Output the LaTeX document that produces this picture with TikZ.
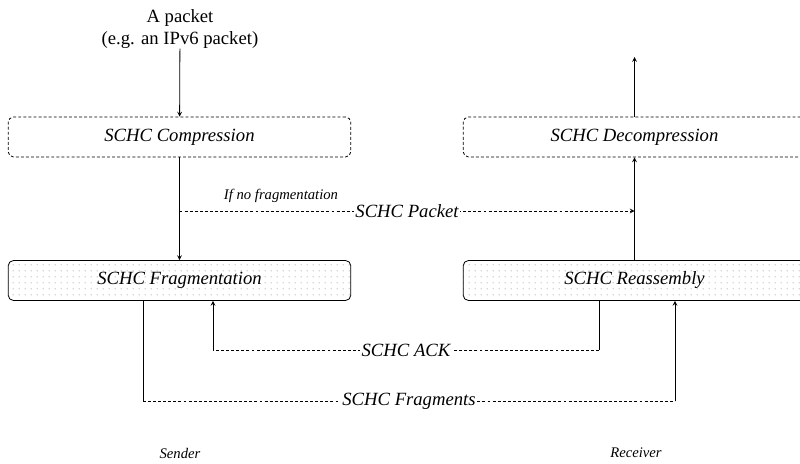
\documentclass[tikz,border=0pt]{standalone}
\usepackage{fontspec}
\setmainfont{Liberation Serif}
\usetikzlibrary{patterns}
\pgfdeclarepatternformonly{sparse dots}{\pgfpointorigin}{\pgfqpoint{4.5pt}{4.5pt}}{\pgfqpoint{4.5pt}{4.5pt}}{\pgfpathcircle{\pgfqpoint{1pt}{1pt}}{0.55pt}\pgfusepath{fill}}
\begin{document}
\begin{tikzpicture}[x=0.75pt, y=-0.75pt, font=\fontsize{14}{16}\selectfont, line join=round, line width=0.6pt, >=stealth,
    block/.style={draw, rounded corners=4pt, minimum width=257pt, minimum height=30pt, font=\fontsize{14}{16}\selectfont\itshape},
    dashblock/.style={block, dash pattern=on 2.2pt off 1.6pt},
    dotblock/.style={block, pattern=sparse dots, pattern color=gray!65},
    dashline/.style={dash pattern=on 2.2pt off 1.6pt},
    lbl/.style={fill=white, inner sep=1pt, font=\fontsize{14}{16}\selectfont\itshape},
    note/.style={font=\fontsize{11}{13}\selectfont\itshape}]
    \useasboundingbox (0,0) rectangle (800,464);
    \clip (0,0) rectangle (800,464);
    % blocks
    \node[align=center, inner sep=0pt] (pkt) at (180,29) {A packet\\(e.g. an IPv6 packet)};
    \node[dashblock] (comp) at (179.5,137) {SCHC Compression};
    \node[dashblock] (decomp) at (634.5,137) {SCHC Decompression};
    \node[dotblock] (frag) at (179.5,280.5) {SCHC Fragmentation};
    \node[dotblock] (reasm) at (634.5,280.5) {SCHC Reassembly};
    \coordinate (out) at (634.5,57);
    \coordinate (br) at (179.5,211);
    % sender side
    \draw[->] (pkt) -- (comp);
    \draw[->] (comp) -- (frag);
    \draw[dashline,->] (br) -- node[lbl]{SCHC Packet} (br -| decomp) ;
    \node[note] (nofrag) at (281,196) {If no fragmentation};
    % receiver side
    \draw[->] (reasm) -- (decomp);
    \draw[->] (decomp) -- (out);
    % ack
    \coordinate (ackR) at (599,350);
    \coordinate (ackL) at (213,350);
    \draw (reasm.south -| ackR) -- (ackR);
    \draw[dashline] (ackR) -- node[lbl]{SCHC ACK} (ackL);
    \draw[->] (ackL) -- (frag.south -| ackL);
    % fragments
    \coordinate (fL) at (143,401);
    \coordinate (fR) at (675,401);
    \draw (frag.south -| fL) -- (fL);
    \draw[dashline] (fL) -- node[lbl]{SCHC Fragments} (fR);
    \draw[->] (fR) -- (reasm.south -| fR);
    \node[note] (snd) at (180,453) {Sender};
    \node[note] (rcv) at (636,453) {Receiver};
\end{tikzpicture}
\end{document}
